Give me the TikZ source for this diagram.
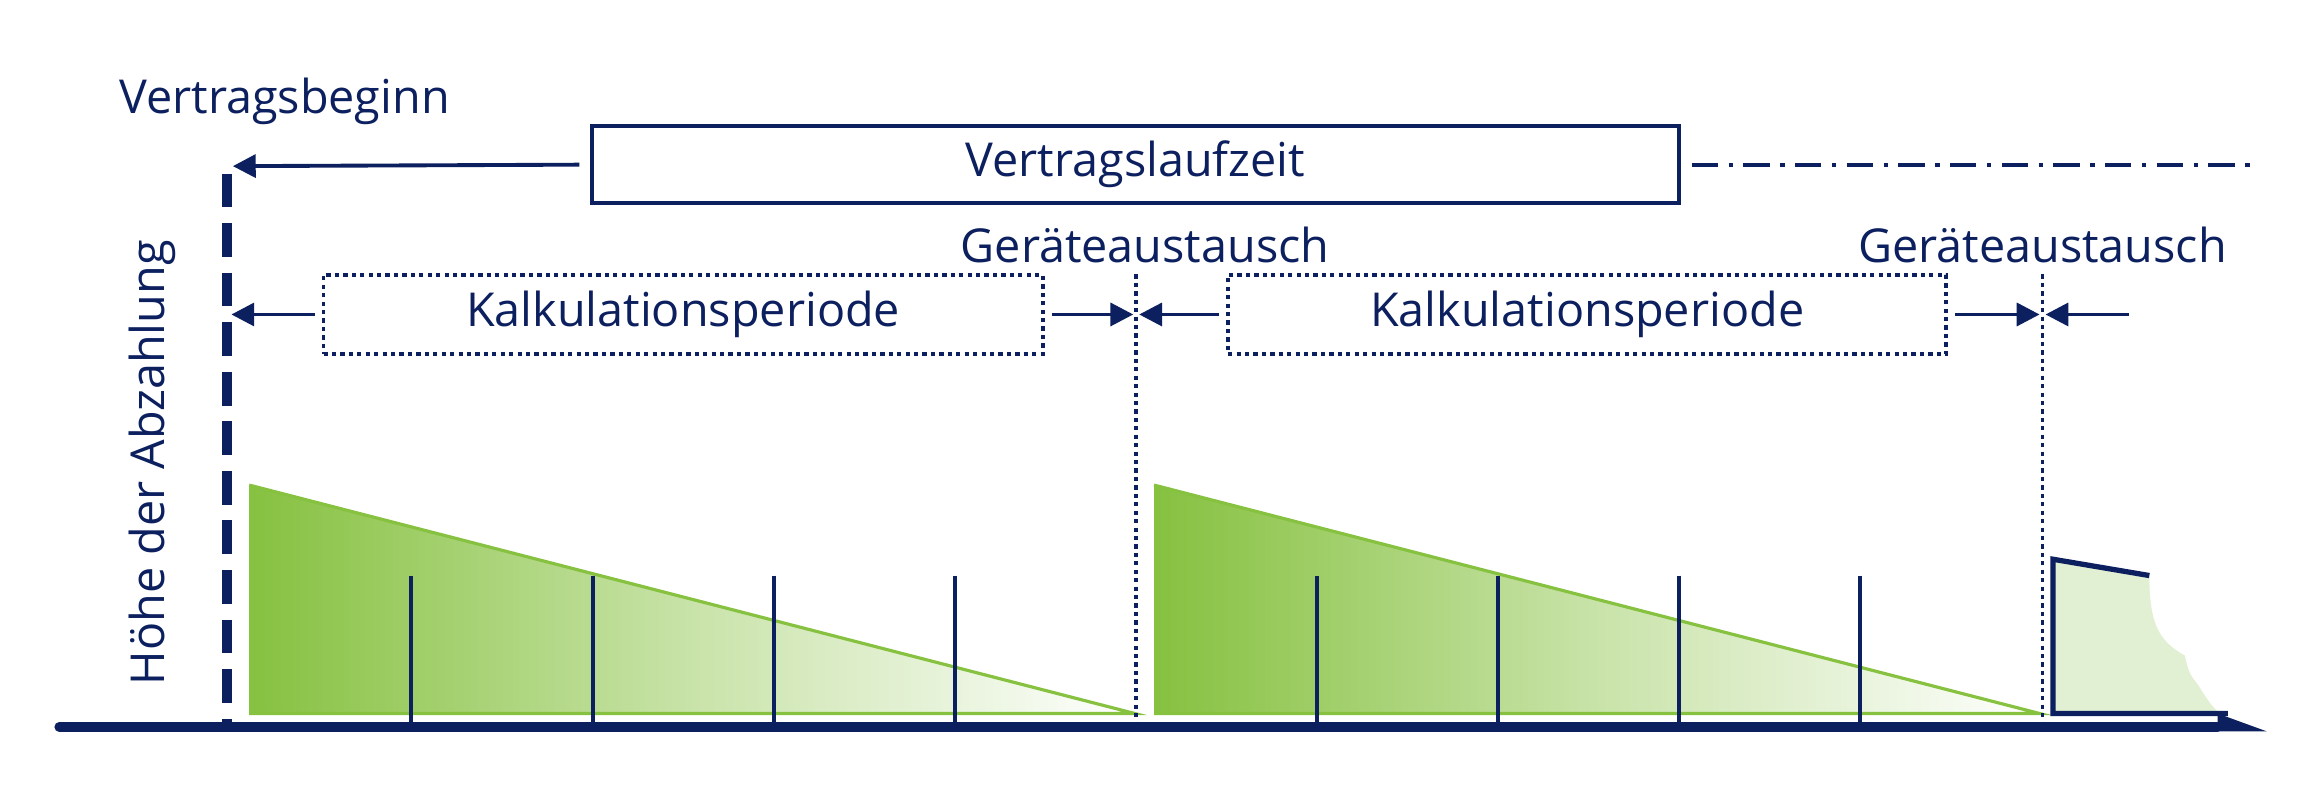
\documentclass[tikz,border=0pt]{standalone}
\usepackage{fontspec}
\setmainfont{Open Sans}
\usetikzlibrary{arrows.meta}
\definecolor{navy}{HTML}{0C1F5E}
\definecolor{grn}{HTML}{86C140}
\definecolor{lgrn}{HTML}{E1EFD2}
\tikzset{
 txt/.style={font=\fontsize{13.3}{16}\selectfont, text=navy, inner sep=0pt},
 arr/.style={draw=navy, line width=1.1pt, -{Triangle[length=6.5pt,width=6.5pt]}},
 vdot/.style={draw=navy, line width=1.1pt, dash pattern=on 1.2pt off 1.2pt},
 tick/.style={draw=navy, line width=1.2pt}
}
\begin{document}
\begin{tikzpicture}[x=0.014833cm,y=-0.014833cm]
\useasboundingbox (0,0) rectangle (1560,534.6);
% green triangles
\foreach \s in {0,610}{
 \shade[left color=grn, right color=white, middle color=grn!45] (168+\s,327) -- (765+\s,481) -- (168+\s,481) -- cycle;
 \draw[grn, line width=0.9pt] (168+\s,327) -- (765+\s,481) -- (168+\s,481);
}
% fragment
\fill[lgrn] (1384,377) -- (1449,388) .. controls (1449,420) and (1455,432) .. (1473,442) .. controls (1476,458) and (1480,458) .. (1482,462) .. controls (1487,470) and (1492,478) .. (1497,481) -- (1384,481) -- cycle;
\draw[navy, line width=1.5pt] (1449,388) -- (1384,377) -- (1384,481) -- (1502,481);
% ticks
\foreach \x in {277,400,522,644,888,1010,1132,1254}
 \draw[tick] (\x,388) -- (\x,490);
% axis
\coordinate (a0) at (40,490);
\draw[navy, line width=2.8pt, line cap=round] (a0) -- (1495,490);
\fill[navy] (1495,481) -- (1528,493) -- (1495,493) -- cycle;
% dashed vertical
\draw[navy, line width=2.7pt, dash pattern=on 9.6pt off 4.5pt] (153,117) -- (153,490);
\coordinate (v0) at (157,112);
% vertragsbeginn
\node[txt, anchor=west] (vb) at (80,68) {Vertragsbeginn};
% Vertragslaufzeit
\node[txt, draw=navy, line width=1.2pt, minimum width=10.87cm, minimum height=0.77cm] (vlb) at (765.5,111) {Vertragslaufzeit};
\draw[arr] ([xshift=-3pt]vlb.west) -- (v0);
\draw[navy, line width=1.1pt, dash pattern=on 7.5pt off 3pt on 1.2pt off 3pt] ([xshift=3pt]vlb.east) -- (1520,111);
% dotted verticals
\draw[vdot] (766,185) -- (766,490);
\draw[vdot] (1377,185) -- (1377,490);
\node[txt] (g1) at (772,165) {Geräteaustausch};
\node[txt] (g2) at (1377,165) {Geräteaustausch};
% Kalk boxes
\node[txt, vdot, minimum width=7.19cm, minimum height=0.79cm] (k1) at (460.5,212) {Kalkulationsperiode};
\node[txt, vdot, minimum width=7.18cm, minimum height=0.79cm] (k2) at (1070,212) {Kalkulationsperiode};
\coordinate (p1) at (156,212);
\coordinate (p2) at (764,212);
\coordinate (p3) at (768,212);
\coordinate (p4) at (1375,212);
\coordinate (p5) at (1379,212);
\coordinate (q5) at (1435,212);
\draw[arr] ([xshift=-2pt]k1.west) -- (p1);
\draw[arr] ([xshift=2pt]k1.east) -- (p2);
\draw[arr] ([xshift=-2pt]k2.west) -- (p3);
\draw[arr] ([xshift=2pt]k2.east) -- (p4);
\draw[arr] (q5) -- (p5);
% y label
\node[txt, rotate=90] (yl) at (103,312) {Höhe der Abzahlung};
\end{tikzpicture}
\end{document}
